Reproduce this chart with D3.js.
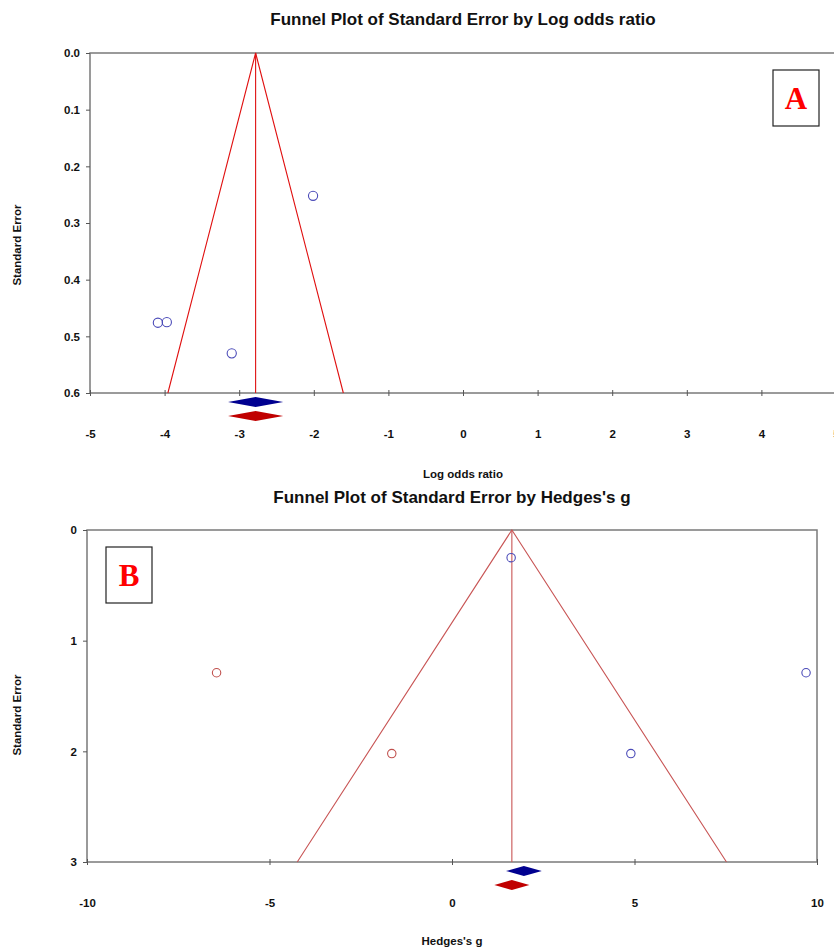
<!DOCTYPE html>
<html>
<head>
<meta charset="utf-8">
<script src="https://cdn.jsdelivr.net/npm/d3@7"></script>
<style>
  html, body { margin: 0; padding: 0; background: #fff; }
  svg { display: block; }
</style>
</head>
<body>
<svg id="chart" width="834" height="948"></svg>
<script>
// ---------- Panel A data ----------
const aTitle = "Funnel Plot of Standard Error by Log odds ratio";
const aXLabel = "Log odds ratio";
const aYLabel = "Standard Error";
const aXTicks = [-5, -4, -3, -2, -1, 0, 1, 2, 3, 4, 5];
const aYTicks = [0.0, 0.1, 0.2, 0.3, 0.4, 0.5, 0.6];
const aStudyX = [-2.01, -4.09, -3.97, -3.10];
const aStudySE = [0.252, 0.476, 0.475, 0.530];
const aObserved = { mean: -2.78, lo: -3.15, hi: -2.41 };
const aAdjusted = { mean: -2.78, lo: -3.15, hi: -2.41 };
const aFunnelMean = -2.78;

// ---------- Panel B data ----------
const bTitle = "Funnel Plot of Standard Error by Hedges's g";
const bXLabel = "Hedges's g";
const bYLabel = "Standard Error";
const bXTicks = [-10, -5, 0, 5, 10];
const bYTicks = [0, 1, 2, 3];
const bStudyX = [1.62, 9.70, 4.90];
const bStudySE = [0.25, 1.29, 2.02];
const bImputedX = [-6.45, -1.65];
const bImputedSE = [1.29, 2.02];
const bObserved = { mean: 1.97, lo: 1.48, hi: 2.46 };
const bAdjusted = { mean: 1.64, lo: 1.16, hi: 2.12 };
const bFunnelMean = 1.64;

const SANS = "Arial, 'Liberation Sans', sans-serif";
const SERIF = "'Times New Roman', 'Liberation Serif', 'DejaVu Serif', serif";
const svg = d3.select("#chart");

function panel(cfg) {
  const x = d3.scaleLinear().domain(cfg.xDomain).range([cfg.left, cfg.right]);
  const y = d3.scaleLinear().domain(cfg.yDomain).range([cfg.top, cfg.bottom]);
  const g = svg.append("g");

  // title
  g.append("text")
    .attr("x", (cfg.left + cfg.right) / 2).attr("y", cfg.titleY)
    .attr("text-anchor", "middle")
    .style("font-family", SANS).style("font-size", "17px").style("font-weight", "bold").attr("fill", "#111")
    .text(cfg.title);

  // frame
  g.append("rect")
    .attr("x", cfg.left).attr("y", cfg.top)
    .attr("width", cfg.right - cfg.left).attr("height", cfg.bottom - cfg.top)
    .attr("fill", "none").attr("stroke", "#7a7a7a").attr("stroke-width", 1.5);

  // y axis
  const yAxis = d3.axisLeft(y).tickValues(cfg.yTicks).tickSize(4).tickFormat(cfg.yFormat);
  const ya = g.append("g").attr("transform", `translate(${cfg.left},0)`).call(yAxis);
  ya.select(".domain").remove();
  ya.selectAll(".tick line").attr("stroke", "#555");
  ya.selectAll(".tick text").attr("x", -10).attr("fill", "#111")
    .style("font-family", SANS).style("font-size", "11.5px").style("font-weight", "bold");

  // x axis (ticks crossing the line, labels further below)
  const xAxis = d3.axisBottom(x).tickValues(cfg.xTicks).tickSize(3).tickFormat(d => String(d));
  const xa = g.append("g").attr("transform", `translate(0,${cfg.bottom})`).call(xAxis);
  xa.select(".domain").remove();
  xa.selectAll(".tick line").attr("y1", -3).attr("y2", 3).attr("stroke", "#555");
  xa.selectAll(".tick text").attr("y", cfg.xLabelOffset).attr("dy", "0.35em").attr("fill", "#111")
    .style("font-family", SANS).style("font-size", "11.5px").style("font-weight", "bold");

  // axis titles
  g.append("text")
    .attr("x", (cfg.left + cfg.right) / 2).attr("y", cfg.xTitleY)
    .attr("text-anchor", "middle").attr("fill", "#111")
    .style("font-family", SANS).style("font-size", "11.5px").style("font-weight", "bold")
    .text(cfg.xLabel);
  g.append("text")
    .attr("transform", `translate(${cfg.yTitleX},${cfg.yTitleY}) rotate(-90)`)
    .attr("text-anchor", "middle").attr("fill", "#111")
    .style("font-family", SANS).style("font-size", "11.5px").style("font-weight", "bold")
    .text(cfg.yLabel);

  // funnel
  const seMax = cfg.yDomain[1];
  const m = cfg.funnelMean;
  const funnel = [[m - 1.96 * seMax, seMax], [m, 0], [m + 1.96 * seMax, seMax]];
  g.append("path")
    .attr("d", d3.line().x(d => x(d[0])).y(d => y(d[1]))(funnel))
    .attr("fill", "none").attr("stroke", cfg.funnelColor).attr("stroke-width", 1.1);
  g.append("line")
    .attr("x1", x(m)).attr("x2", x(m)).attr("y1", y(0)).attr("y2", y(seMax))
    .attr("stroke", cfg.funnelColor).attr("stroke-width", 1.1);

  // points
  g.selectAll(null).data(cfg.studyX.map((v, i) => [v, cfg.studySE[i]])).enter()
    .append("circle")
    .attr("cx", d => x(d[0])).attr("cy", d => y(d[1])).attr("r", cfg.r)
    .attr("fill", "none").attr("stroke", "#4a4ab8").attr("stroke-width", 1.1);
  if (cfg.impX) {
    g.selectAll(null).data(cfg.impX.map((v, i) => [v, cfg.impSE[i]])).enter()
      .append("circle")
      .attr("cx", d => x(d[0])).attr("cy", d => y(d[1])).attr("r", cfg.r)
      .attr("fill", "none").attr("stroke", "#c0504d").attr("stroke-width", 1.1);
  }

  // diamonds
  function diamond(d, yc, color) {
    const h = 5;
    const pts = [[x(d.lo), yc], [x(d.mean), yc - h], [x(d.hi), yc], [x(d.mean), yc + h]];
    g.append("path").attr("d", "M" + pts.join("L") + "Z").attr("fill", color);
  }
  diamond(cfg.observed, cfg.bottom + cfg.diamond1, "#000090");
  diamond(cfg.adjusted, cfg.bottom + cfg.diamond2, "#c00000");

  // label box
  g.append("rect")
    .attr("x", cfg.box[0]).attr("y", cfg.box[1]).attr("width", cfg.box[2]).attr("height", cfg.box[3])
    .attr("fill", "#fff").attr("stroke", "#222").attr("stroke-width", 1.2);
  g.append("text")
    .attr("x", cfg.box[0] + cfg.box[2] / 2).attr("y", cfg.box[1] + cfg.box[3] / 2 + 11)
    .attr("text-anchor", "middle").attr("fill", "#ff0000")
    .style("font-family", SERIF).style("font-size", "31px").style("font-weight", "bold")
    .text(cfg.boxLabel);
}

panel({
  title: aTitle, xLabel: aXLabel, yLabel: aYLabel,
  xDomain: [-5, 5], yDomain: [0, 0.6],
  left: 90, right: 836, top: 53, bottom: 393,
  titleY: 25, xTitleY: 478, yTitleX: 21, yTitleY: 245,
  xTicks: aXTicks, yTicks: aYTicks, yFormat: d3.format(".1f"),
  xLabelOffset: 41,
  funnelMean: aFunnelMean, funnelColor: "#e01010",
  studyX: aStudyX, studySE: aStudySE, r: 4.6,
  observed: aObserved, adjusted: aAdjusted, diamond1: 9, diamond2: 23,
  box: [773, 70, 46, 56], boxLabel: "A"
});

panel({
  title: bTitle, xLabel: bXLabel, yLabel: bYLabel,
  xDomain: [-10, 10], yDomain: [0, 3],
  left: 87, right: 817, top: 530, bottom: 862,
  titleY: 503, xTitleY: 945, yTitleX: 21, yTitleY: 715,
  xTicks: bXTicks, yTicks: bYTicks, yFormat: d3.format("d"),
  xLabelOffset: 41,
  funnelMean: bFunnelMean, funnelColor: "#c85555",
  studyX: bStudyX, studySE: bStudySE, impX: bImputedX, impSE: bImputedSE, r: 4.2,
  observed: bObserved, adjusted: bAdjusted, diamond1: 9, diamond2: 23,
  box: [106, 547, 46, 56], boxLabel: "B"
});
</script>
</body>
</html>
